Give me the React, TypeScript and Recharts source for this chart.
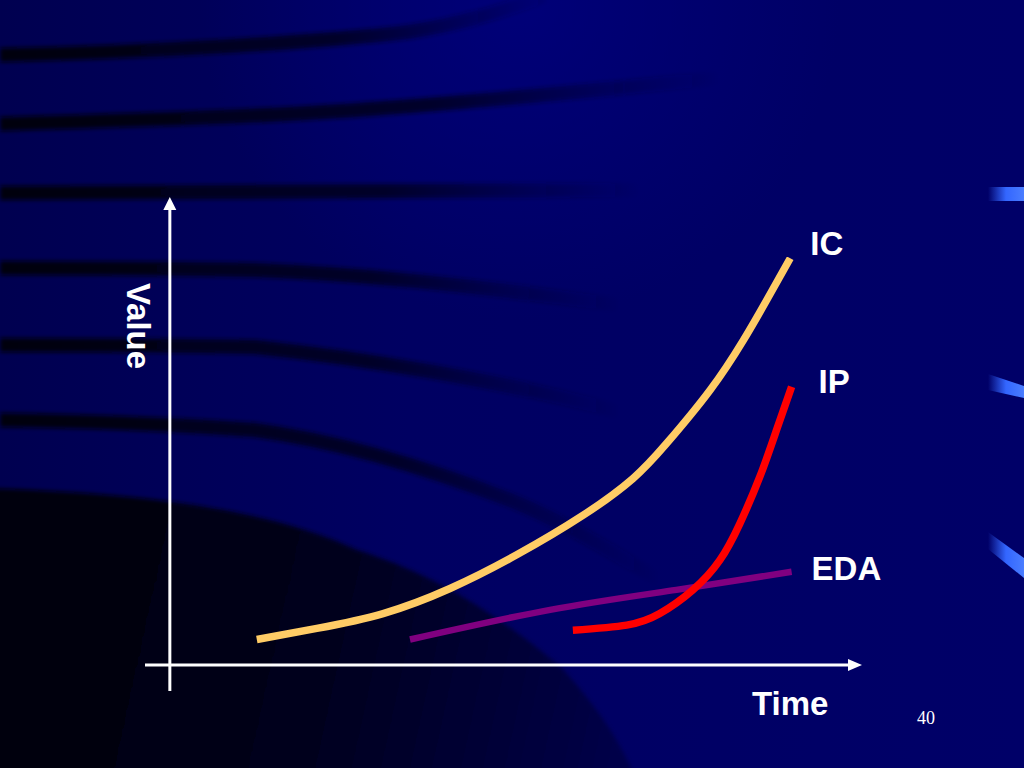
import { LineChart, Line, XAxis, YAxis, ReferenceLine, ReferenceDot, LabelList } from "recharts";

// values (time and value in axis units, origin = 0,0)
const icTime = [12.6, 21.3, 30.9, 40.6, 50.2, 59.9, 67.1, 72.0, 78.3, 83.1, 86.5, 89.9];
const icValue = [5.5, 7.9, 11.1, 16.5, 23.7, 32.3, 40.2, 47.8, 59.3, 70.0, 78.7, 87.7];

const ipTime = [58.4, 66.2, 71.0, 75.8, 79.7, 82.6, 85.5, 87.9, 90.1];
const ipValue = [7.5, 8.6, 11.1, 16.2, 22.6, 30.5, 40.6, 50.6, 60.0];

const edaTime = [34.8, 55.1, 73.4, 90.1];
const edaValue = [5.5, 11.9, 16.2, 20.1];

const timeDomain = [-3.6, 100.3];
const valueDomain = [-5.6, 100.9];

const zip = (t: number[], v: number[]) => t.map((time, i) => ({ t: time, v: v[i] }));

const icData = zip(icTime, icValue);
const ipData = zip(ipTime, ipValue);
const edaData = zip(edaTime, edaValue);

const FONT = "'Liberation Sans', Arial, sans-serif";

const endLabel = (text: string, count: number, dx: number, dy: number) => (props: any) => {
  if (props.index !== count - 1) return null;
  return (
    <text
      x={Number(props.x) + dx}
      y={Number(props.y) + dy}
      fill="#ffffff"
      fontSize={33}
      fontWeight="bold"
      fontFamily={FONT}
    >
      {text}
    </text>
  );
};

const UpArrow = (p: any) => (
  <polygon points={`${p.cx},${p.cy} ${p.cx - 6.5},${p.cy + 13} ${p.cx + 6.5},${p.cy + 13}`} fill="#ffffff" />
);

const RightArrow = (p: any) => (
  <polygon points={`${p.cx},${p.cy} ${p.cx - 14},${p.cy - 6} ${p.cx - 14},${p.cy + 6}`} fill="#ffffff" />
);

// slide background: dark navy with soft black swooshes
const Background = () => (
  <svg width={1024} height={768} style={{ position: "absolute", left: 0, top: 0 }}>
    <defs>
      <linearGradient id="bg" x1="0" y1="0" x2="1" y2="0">
        <stop offset="0" stopColor="#000050" />
        <stop offset="0.4" stopColor="#000062" />
        <stop offset="1" stopColor="#000068" />
      </linearGradient>
      <radialGradient id="glow" cx="520" cy="0" r="320" gradientUnits="userSpaceOnUse">
        <stop offset="0" stopColor="#00007e" stopOpacity="0.8" />
        <stop offset="1" stopColor="#00007e" stopOpacity="0" />
      </radialGradient>
      <linearGradient id="dark" x1="0" y1="560" x2="640" y2="700" gradientUnits="userSpaceOnUse">
        <stop offset="0" stopColor="#000008" />
        <stop offset="0.5" stopColor="#00001c" />
        <stop offset="1" stopColor="#00004a" />
      </linearGradient>
      {[560, 720, 640, 620, 620, 660].map((end, i) => (
        <linearGradient key={i} id={`fade${i}`} x1="0" y1="0" x2={end} y2="0" gradientUnits="userSpaceOnUse">
          <stop offset="0" stopColor="#000010" stopOpacity="1" />
          <stop offset="0.6" stopColor="#000018" stopOpacity="0.8" />
          <stop offset="1" stopColor="#000030" stopOpacity="0" />
        </linearGradient>
      ))}
      <linearGradient id="tick" x1="0" y1="0" x2="1" y2="0">
        <stop offset="0" stopColor="#3366ff" stopOpacity="0" />
        <stop offset="0.5" stopColor="#3366ff" stopOpacity="1" />
        <stop offset="1" stopColor="#4a7dff" stopOpacity="1" />
      </linearGradient>
      <filter id="soft" x="-0.1" y="-0.3" width="1.2" height="1.6">
        <feGaussianBlur stdDeviation="2.2" />
      </filter>
    </defs>
    <rect width={1024} height={768} fill="url(#bg)" />
    <rect width={1024} height={768} fill="url(#glow)" />
    <path
      d="M-20,488 C120,492 260,505 357,550 C420,570 480,600 561,667 C590,700 620,735 640,790 L-20,790 Z"
      fill="url(#dark)"
      filter="url(#soft)"
    />
    <g fill="none" strokeWidth={14} filter="url(#soft)">
      <path d="M0,55 C150,52 320,42 408,32 C460,24 500,12 545,-4" stroke="url(#fade0)" />
      <path d="M0,124 C150,120 250,116 306,113 C400,108 520,98 720,78" stroke="url(#fade1)" />
      <path d="M0,193 C200,192 400,192 640,190" stroke="url(#fade2)" />
      <path d="M0,268 C120,268 200,269 255,270 C360,274 460,284 620,305" stroke="url(#fade3)" />
      <path d="M0,345 C120,345 200,346 255,347 C360,358 500,380 620,412" stroke="url(#fade4)" />
      <path d="M0,420 C150,422 220,428 255,430 C330,440 420,465 510,500 C560,520 600,545 660,580" stroke="url(#fade5)" />
    </g>
    <polygon points="988,187 1024,187 1024,201 988,201" fill="url(#tick)" />
    <polygon points="988,374 1024,386 1024,398 988,390" fill="url(#tick)" />
    <polygon points="988,532 1024,558 1024,578 988,549" fill="url(#tick)" />
    <text x={752} y={715} fill="#ffffff" fontSize={33} fontWeight="bold" fontFamily={FONT}>
      Time
    </text>
    <text
      x={127}
      y={326}
      fill="#ffffff"
      fontSize={33}
      fontWeight="bold"
      fontFamily={FONT}
      textAnchor="middle"
      transform="rotate(90 127 326)"
    >
      Value
    </text>
    <text x={917} y={724} fill="#ffffff" fontSize={18} fontFamily="'Liberation Serif', 'Times New Roman', serif">
      40
    </text>
  </svg>
);

const App = () => {
  return (
    <div style={{ position: "relative", width: 1024, height: 768, overflow: "hidden" }}>
      <style>{"body{margin:0}"}</style>
      <Background />
      <div style={{ position: "absolute", left: 0, top: 0 }}>
        <LineChart width={1024} height={768} margin={{ top: 197, right: 162, bottom: 77, left: 145 }}>
          <XAxis type="number" dataKey="t" domain={timeDomain} hide allowDataOverflow />
          <YAxis type="number" dataKey="v" domain={valueDomain} hide allowDataOverflow />
          <ReferenceLine
            segment={[{ x: 0, y: -5.6 }, { x: 0, y: 98.6 }]}
            stroke="#ffffff"
            strokeWidth={3}
            ifOverflow="visible"
          />
          <ReferenceLine
            segment={[{ x: -3.6, y: 0 }, { x: 98.4, y: 0 }]}
            stroke="#ffffff"
            strokeWidth={3}
            ifOverflow="visible"
          />
          <ReferenceDot x={0} y={100.9} r={0} shape={UpArrow} ifOverflow="visible" />
          <ReferenceDot x={100.3} y={0} r={0} shape={RightArrow} ifOverflow="visible" />
          <Line
            data={icData}
            dataKey="v"
            type="natural"
            stroke="#ffcc66"
            strokeWidth={7.5}
            dot={false}
            activeDot={false}
            isAnimationActive={false}
          >
            <LabelList dataKey="v" content={endLabel("IC", icData.length, 20, -3)} />
          </Line>
          <Line
            data={edaData}
            dataKey="v"
            type="natural"
            stroke="#800080"
            strokeWidth={6.5}
            dot={false}
            activeDot={false}
            isAnimationActive={false}
          >
            <LabelList dataKey="v" content={endLabel("EDA", edaData.length, 20, 8)} />
          </Line>
          <Line
            data={ipData}
            dataKey="v"
            type="natural"
            stroke="#ff0000"
            strokeWidth={7.5}
            dot={false}
            activeDot={false}
            isAnimationActive={false}
          >
            <LabelList dataKey="v" content={endLabel("IP", ipData.length, 27, 6)} />
          </Line>
        </LineChart>
      </div>
    </div>
  );
};

export default App;
